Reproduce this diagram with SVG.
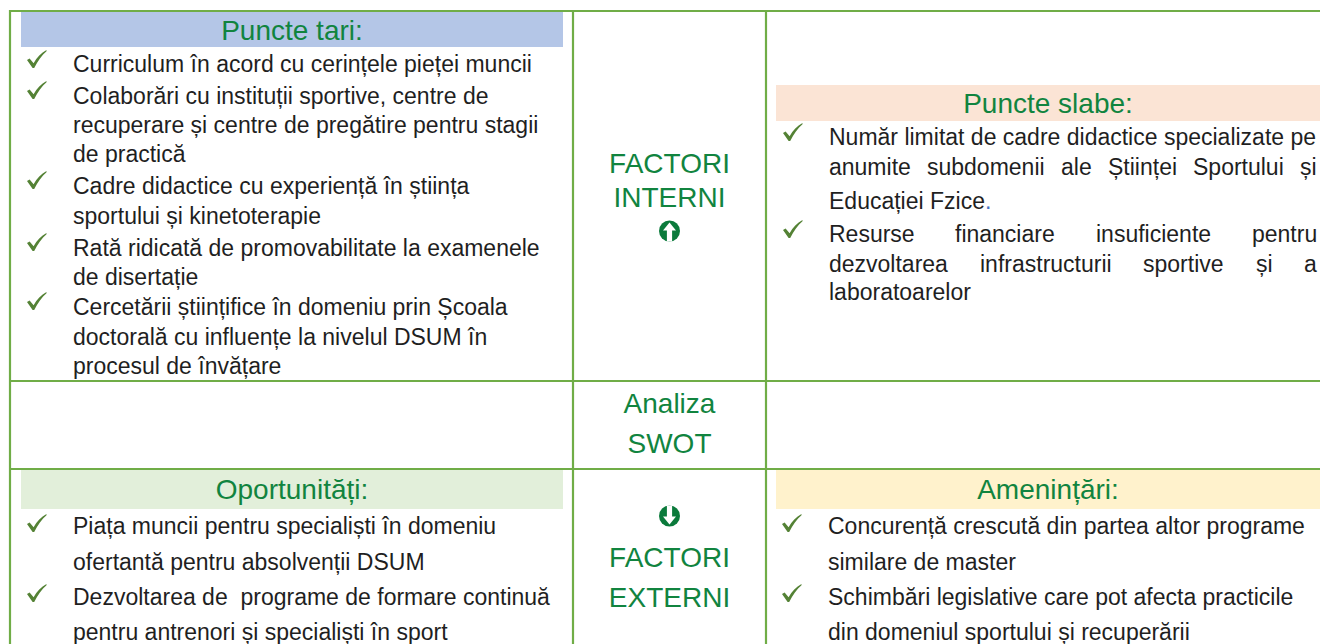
<svg xmlns="http://www.w3.org/2000/svg" xmlns:xlink="http://www.w3.org/1999/xlink" width="1320" height="644" viewBox="0 0 1320 644">
<style>
.b{font-family:"Liberation Sans",Arial,sans-serif;font-size:23px;fill:#1f1f1f}
.h{font-family:"Liberation Sans",Arial,sans-serif;font-size:28px;fill:#11843f;text-anchor:middle}
.c{font-family:"Liberation Sans",Arial,sans-serif;font-size:28px;fill:#11843f;text-anchor:middle}
.ln{stroke:#70ad47;stroke-width:2.2;fill:none}
</style>
<defs>
<path id="chk" d="M0,10 L2.6,8.4 L6.6,13.2 C10,7 14,3 19.5,0 L19.5,1.2 C14.8,5 10.8,11 7.2,18 L5.6,18 Z" fill="#548235"/>
<g id="icon">
<circle r="10.5" fill="#0b7a3b"/>
<path d="M0,-8.5 L-6.5,-0.5 L-2.6,-0.5 L-2.6,10.6 L2.6,10.6 L2.6,-0.5 L6.5,-0.5 Z" fill="#ffffff"/>
</g>
</defs>
<rect width="1320" height="644" fill="#ffffff"/>

<g id="cell-tari">
<rect x="21" y="12" width="542" height="35" fill="#b4c6e7"/>
<text class="h" x="292" y="40">Puncte tari:</text>
<use xlink:href="#chk" x="27" y="50"/>
<use xlink:href="#chk" x="27" y="81"/>
<use xlink:href="#chk" x="27" y="171"/>
<use xlink:href="#chk" x="27" y="233"/>
<use xlink:href="#chk" x="27" y="292"/>
<text class="b" x="73" y="72">Curriculum în acord cu cerințele pieței muncii</text>
<text class="b" x="73" y="104">Colaborări cu instituții sportive, centre de</text>
<text class="b" x="73" y="133">recuperare și centre de pregătire pentru stagii</text>
<text class="b" x="73" y="162">de practică</text>
<text class="b" x="73" y="194">Cadre didactice cu experiență în știința</text>
<text class="b" x="73" y="224">sportului și kinetoterapie</text>
<text class="b" x="73" y="256">Rată ridicată de promovabilitate la examenele</text>
<text class="b" x="73" y="285">de disertație</text>
<text class="b" x="73" y="315">Cercetării științifice în domeniu prin Școala</text>
<text class="b" x="73" y="345">doctorală cu influențe la nivelul DSUM în</text>
<text class="b" x="73" y="374">procesul de învățare</text>
</g>

<g id="cell-interni">
<text class="c" x="669.5" y="173">FACTORI</text>
<text class="c" x="669.5" y="207">INTERNI</text>
<use xlink:href="#icon" transform="translate(669.5,231)"/>
</g>

<g id="cell-slabe">
<rect x="776" y="85" width="544" height="36" fill="#fbe4d5"/>
<text class="h" x="1048" y="113">Puncte slabe:</text>
<use xlink:href="#chk" x="783" y="123"/>
<use xlink:href="#chk" x="783" y="220"/>
<text class="b" x="829" y="145">Număr limitat de cadre didactice specializate pe</text>
<text class="b" y="175"><tspan x="829">anumite</tspan><tspan x="927">subdomenii</tspan><tspan x="1061">ale</tspan><tspan x="1108">Științei</tspan><tspan x="1193">Sportului</tspan><tspan x="1300">și</tspan></text>
<text class="b" x="829" y="209">Educației Fzice<tspan fill="#4472c4">.</tspan></text>
<text class="b" y="242"><tspan x="829">Resurse</tspan><tspan x="955">financiare</tspan><tspan x="1096">insuficiente</tspan><tspan x="1252">pentru</tspan></text>
<text class="b" y="272"><tspan x="829">dezvoltarea</tspan><tspan x="980">infrastructurii</tspan><tspan x="1143">sportive</tspan><tspan x="1256">și</tspan><tspan x="1304">a</tspan></text>
<text class="b" x="829" y="300">laboratoarelor</text>
</g>

<g id="cell-analiza">
<text class="c" x="669.5" y="413">Analiza</text>
<text class="c" x="669.5" y="453">SWOT</text>
</g>

<g id="cell-oportunitati">
<rect x="21" y="470" width="542" height="39" fill="#e2efda"/>
<text class="h" x="292" y="499">Oportunități:</text>
<use xlink:href="#chk" x="27" y="514"/>
<use xlink:href="#chk" x="27" y="584"/>
<text class="b" x="73" y="534">Piața muncii pentru specialiști în domeniu</text>
<text class="b" x="73" y="570">ofertantă pentru absolvenții DSUM</text>
<text class="b" x="73" y="605" style="white-space:pre">Dezvoltarea de  programe de formare continuă</text>
<text class="b" x="73" y="640">pentru antrenori și specialiști în sport</text>
</g>

<g id="cell-externi">
<use xlink:href="#icon" transform="translate(669.5,516) rotate(180)"/>
<text class="c" x="669.5" y="567">FACTORI</text>
<text class="c" x="669.5" y="607">EXTERNI</text>
</g>

<g id="cell-amenintari">
<rect x="776" y="470" width="544" height="39" fill="#fff2cc"/>
<text class="h" x="1048" y="499">Amenințări:</text>
<use xlink:href="#chk" x="782" y="514"/>
<use xlink:href="#chk" x="782" y="584"/>
<text class="b" x="828" y="534">Concurență crescută din partea altor programe</text>
<text class="b" x="828" y="570">similare de master</text>
<text class="b" x="828" y="605">Schimbări legislative care pot afecta practicile</text>
<text class="b" x="828" y="640">din domeniul sportului și recuperării</text>
</g>

<g id="connectors">
<line class="ln" x1="9" y1="11" x2="1320" y2="11"/>
<line class="ln" x1="10" y1="10" x2="10" y2="644"/>
<line class="ln" x1="573" y1="11" x2="573" y2="644"/>
<line class="ln" x1="766" y1="11" x2="766" y2="644"/>
<line class="ln" x1="10" y1="381" x2="1320" y2="381"/>
<line class="ln" x1="10" y1="469" x2="1320" y2="469"/>
</g>
</svg>
